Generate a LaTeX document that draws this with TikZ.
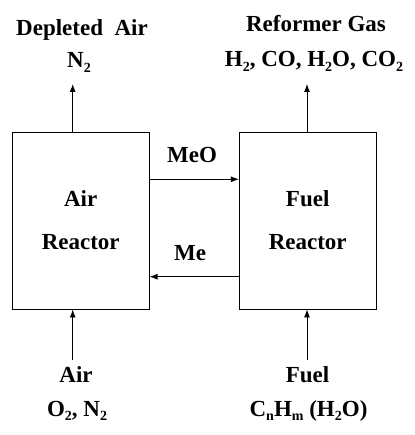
\documentclass[tikz,border=0pt]{standalone}
\usepackage{fontspec}
\setmainfont{Liberation Serif}
\usetikzlibrary{positioning, arrows.meta}
\newcommand\chemsub[1]{\raisebox{-4.5pt}{\fontsize{14}{14}\selectfont #1}}

\begin{document}
\begin{tikzpicture}[x=1pt, y=-1pt, >={Latex[length=8pt,width=6pt]},
    reactor/.style={rectangle, draw, line width=0.9pt, minimum width=136.7pt, minimum height=177pt, inner sep=0pt},
    lbl/.style={anchor=base, inner sep=0pt, font=\fontsize{23}{27}\selectfont\bfseries},
    flow/.style={->, line width=0.9pt}]
    \useasboundingbox (0,0) rectangle (414,435);
    % reactors
    \node[reactor] (air) at (80.7,220.5) {};
    \node[reactor] (fuel) at (307.7,220.5) {};
    \node[lbl] (airname) at (80.7,206.7) {Air};
    \node[lbl] (airname2) at (80.7,249) {Reactor};
    \node[lbl] (fuelname) at (307.7,206.7) {Fuel};
    \node[lbl] (fuelname2) at (307.7,249) {Reactor};

    % outlets
    \node[lbl] (depleted) at (82,36) {Depleted\ \ Air};
    \node[lbl] (nitro) at (79,68) {N\chemsub{2}};
    \node[lbl] (reformer) at (316,32) {Reformer Gas};
    \node[lbl] (gases) at (314,67) {H\chemsub{2}, CO, H\chemsub{2}O, CO\chemsub{2}};
    \coordinate (airtop) at (72.7,84);
    \coordinate (fueltop) at (307,84);
    \draw[flow] (air.north -| airtop) -- (airtop);
    \draw[flow] (fuel.north -| fueltop) -- (fueltop);

    % inlets
    \node[lbl] (airin) at (76,382) {Air};
    \node[lbl] (airin2) at (77,416) {O\chemsub{2}, N\chemsub{2}};
    \node[lbl] (fuelin) at (307.5,382) {Fuel};
    \node[lbl] (fuelin2) at (308.5,416) {C\chemsub{n}H\chemsub{m} (H\chemsub{2}O)};
    \coordinate (airbot) at (72.7,360);
    \coordinate (fuelbot) at (307,360);
    \draw[flow] (airbot) -- (air.south -| airbot);
    \draw[flow] (fuelbot) -- (fuel.south -| fuelbot);

    % oxygen carrier loop
    \node[lbl] (meo) at (192,162.7) {MeO};
    \node[lbl] (me) at (190,260) {Me};
    \coordinate (meoline) at (192,179.3);
    \coordinate (meline) at (190,276.7);
    \draw[flow] (air.east |- meoline) -- (fuel.west |- meoline);
    \draw[flow] (fuel.west |- meline) -- (air.east |- meline);
\end{tikzpicture}
\end{document}
